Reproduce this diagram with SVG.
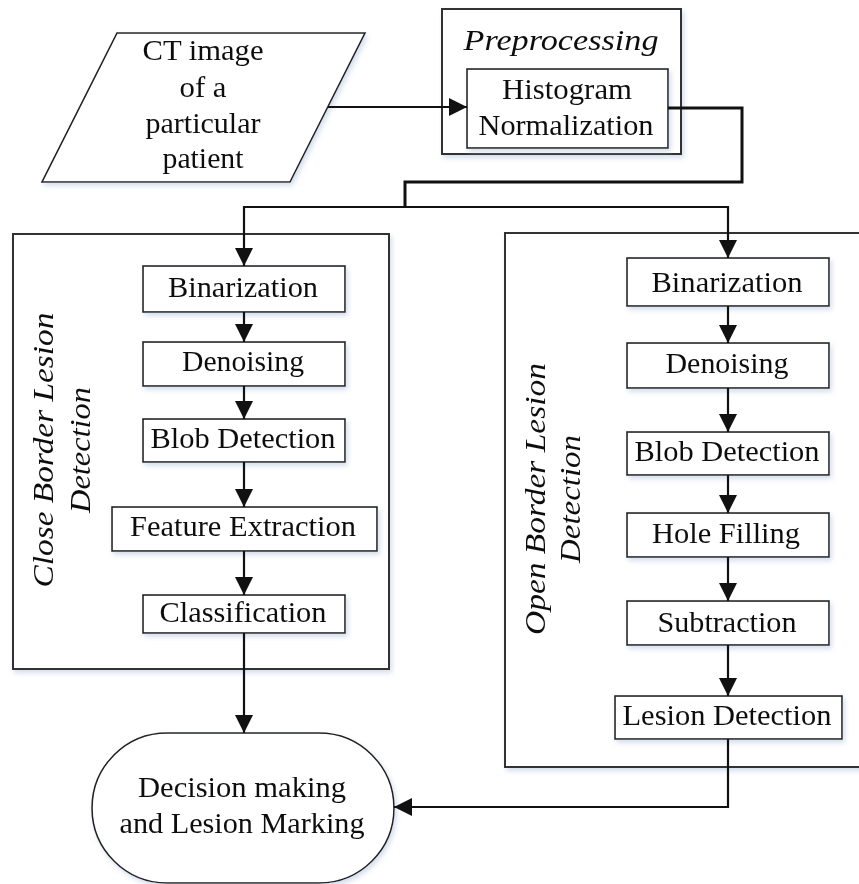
<svg xmlns="http://www.w3.org/2000/svg" width="859" height="884" viewBox="0 0 859 884">
<style>
.box{fill:#fff;stroke:#222;stroke-width:1.6}
.panel{fill:#fff;stroke:#333;stroke-width:2}
.t{font-family:"Liberation Serif","Times New Roman",serif;font-size:30px;fill:#111;text-anchor:middle}
.ti{font-family:"Liberation Serif","Times New Roman",serif;font-size:30px;font-style:italic;fill:#111;text-anchor:middle}
.c{fill:none;stroke:#111;stroke-width:2.2}
.c3{fill:none;stroke:#111;stroke-width:3}
</style>
<defs>
<filter id="sh" x="-10%" y="-10%" width="130%" height="130%">
<feDropShadow dx="2" dy="3" stdDeviation="2.5" flood-color="#b9c8e0" flood-opacity="0.6"/>
</filter>
<marker id="ah" viewBox="0 0 18 18" refX="18" refY="9" markerWidth="18" markerHeight="18" markerUnits="userSpaceOnUse" orient="auto">
<path d="M0,0 L18,9 L0,18 z" fill="#111"/>
</marker>
</defs>
<rect width="859" height="884" fill="#fff"/>

<g id="panel-close" filter="url(#sh)">
<rect class="panel" x="13" y="234" width="376" height="435"/>
<text class="ti" transform="translate(53,450) rotate(-90)" textLength="275" lengthAdjust="spacingAndGlyphs">Close Border Lesion</text>
<text class="ti" transform="translate(90,450) rotate(-90)" textLength="126" lengthAdjust="spacingAndGlyphs">Detection</text>
</g>
<g id="panel-open" filter="url(#sh)">
<rect class="panel" x="505" y="233" width="360" height="534"/>
<text class="ti" transform="translate(545,499) rotate(-90)" textLength="272" lengthAdjust="spacingAndGlyphs">Open Border Lesion</text>
<text class="ti" transform="translate(580,499) rotate(-90)" textLength="128" lengthAdjust="spacingAndGlyphs">Detection</text>
</g>

<g id="input" filter="url(#sh)">
<polygon class="box" points="117,33 365,33 290,182 42,182"/>
<text class="t" x="203" y="60" textLength="121" lengthAdjust="spacingAndGlyphs">CT image</text>
<text class="t" x="203" y="97" textLength="47" lengthAdjust="spacingAndGlyphs">of a</text>
<text class="t" x="203" y="133" textLength="115" lengthAdjust="spacingAndGlyphs">particular</text>
<text class="t" x="203" y="168" textLength="81" lengthAdjust="spacingAndGlyphs">patient</text>
</g>

<g id="preprocessing" filter="url(#sh)">
<rect class="panel" x="442" y="9" width="239" height="145"/>
<text class="ti" x="561" y="50" textLength="195" lengthAdjust="spacingAndGlyphs">Preprocessing</text>
</g>
<g id="histogram" filter="url(#sh)">
<rect class="box" x="467" y="69" width="201" height="79"/>
<text class="t" x="567" y="99" textLength="130" lengthAdjust="spacingAndGlyphs">Histogram</text>
<text class="t" x="566" y="135" textLength="175" lengthAdjust="spacingAndGlyphs">Normalization</text>
</g>

<g id="l-binarization" filter="url(#sh)">
<rect class="box" x="143" y="266" width="202" height="46"/>
<text class="t" x="243" y="297" textLength="150" lengthAdjust="spacingAndGlyphs">Binarization</text>
</g>
<g id="l-denoising" filter="url(#sh)">
<rect class="box" x="143" y="342" width="202" height="44"/>
<text class="t" x="243" y="371" textLength="122" lengthAdjust="spacingAndGlyphs">Denoising</text>
</g>
<g id="l-blob" filter="url(#sh)">
<rect class="box" x="143" y="419" width="202" height="43"/>
<text class="t" x="243" y="448" textLength="185" lengthAdjust="spacingAndGlyphs">Blob Detection</text>
</g>
<g id="l-feature" filter="url(#sh)">
<rect class="box" x="112" y="507" width="265" height="44"/>
<text class="t" x="243" y="536" textLength="226" lengthAdjust="spacingAndGlyphs">Feature Extraction</text>
</g>
<g id="l-classification" filter="url(#sh)">
<rect class="box" x="143" y="595" width="202" height="38"/>
<text class="t" x="243" y="622" textLength="167" lengthAdjust="spacingAndGlyphs">Classification</text>
</g>

<g id="r-binarization" filter="url(#sh)">
<rect class="box" x="627" y="258" width="202" height="48"/>
<text class="t" x="727" y="292" textLength="151" lengthAdjust="spacingAndGlyphs">Binarization</text>
</g>
<g id="r-denoising" filter="url(#sh)">
<rect class="box" x="627" y="343" width="202" height="45"/>
<text class="t" x="727" y="373" textLength="123" lengthAdjust="spacingAndGlyphs">Denoising</text>
</g>
<g id="r-blob" filter="url(#sh)">
<rect class="box" x="627" y="432" width="202" height="43"/>
<text class="t" x="727" y="461" textLength="185" lengthAdjust="spacingAndGlyphs">Blob Detection</text>
</g>
<g id="r-hole" filter="url(#sh)">
<rect class="box" x="627" y="513" width="202" height="44"/>
<text class="t" x="726" y="543" textLength="148" lengthAdjust="spacingAndGlyphs">Hole Filling</text>
</g>
<g id="r-subtraction" filter="url(#sh)">
<rect class="box" x="627" y="601" width="202" height="44"/>
<text class="t" x="727" y="632" textLength="139" lengthAdjust="spacingAndGlyphs">Subtraction</text>
</g>
<g id="r-lesion" filter="url(#sh)">
<rect class="box" x="615" y="696" width="227" height="43"/>
<text class="t" x="727" y="725" textLength="209" lengthAdjust="spacingAndGlyphs">Lesion Detection</text>
</g>

<g id="decision" filter="url(#sh)">
<rect class="box" x="92" y="733" width="302" height="150" rx="75" ry="75"/>
<text class="t" x="242" y="797" textLength="208" lengthAdjust="spacingAndGlyphs">Decision making</text>
<text class="t" x="242" y="833" textLength="245" lengthAdjust="spacingAndGlyphs">and Lesion Marking</text>
</g>

<g id="connectors">
<line class="c" x1="328" y1="107" x2="467" y2="107" marker-end="url(#ah)"/>
<polyline class="c3" points="668,108 742,108 742,182 405,182 405,207"/>
<polyline class="c" points="244,207 728,207"/>
<line class="c" x1="244" y1="206" x2="244" y2="266" marker-end="url(#ah)"/>
<line class="c" x1="728" y1="206" x2="728" y2="258" marker-end="url(#ah)"/>
<line class="c" x1="244" y1="312" x2="244" y2="342" marker-end="url(#ah)"/>
<line class="c" x1="244" y1="386" x2="244" y2="419" marker-end="url(#ah)"/>
<line class="c" x1="244" y1="462" x2="244" y2="507" marker-end="url(#ah)"/>
<line class="c" x1="244" y1="551" x2="244" y2="595" marker-end="url(#ah)"/>
<line class="c" x1="244" y1="633" x2="244" y2="733" marker-end="url(#ah)"/>
<line class="c" x1="728" y1="306" x2="728" y2="343" marker-end="url(#ah)"/>
<line class="c" x1="728" y1="388" x2="728" y2="432" marker-end="url(#ah)"/>
<line class="c" x1="728" y1="475" x2="728" y2="513" marker-end="url(#ah)"/>
<line class="c" x1="728" y1="557" x2="728" y2="601" marker-end="url(#ah)"/>
<line class="c" x1="728" y1="645" x2="728" y2="696" marker-end="url(#ah)"/>
<polyline class="c" points="728,739 728,807 394,807" marker-end="url(#ah)"/>
</g>
</svg>
